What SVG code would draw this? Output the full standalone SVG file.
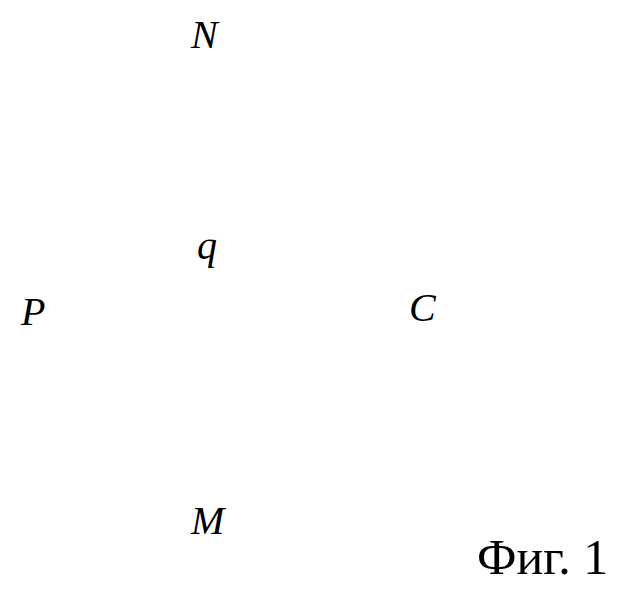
<svg xmlns="http://www.w3.org/2000/svg" width="629" height="591" viewBox="0 0 629 591" font-family="Liberation Serif, serif">
<rect width="629" height="591" fill="#fff"/>
<g id="connectors"/>
<g id="node-N"><text font-family="serif" font-style="italic" font-size="40" x="191" y="48">N</text></g>
<g id="node-q"><text font-family="serif" font-style="italic" font-size="40" x="197" y="259">q</text></g>
<g id="node-P"><text font-style="italic" font-size="40" x="21" y="325">P</text></g>
<g id="node-C"><text font-style="italic" font-size="40" x="409" y="321">C</text></g>
<g id="node-M"><text font-family="Liberation Serif" font-style="italic" font-size="40" x="191" y="534">M</text></g>
<g id="caption"><text font-family="Liberation Serif" font-size="50" x="477" y="574">Фиг. 1</text></g>
</svg>
